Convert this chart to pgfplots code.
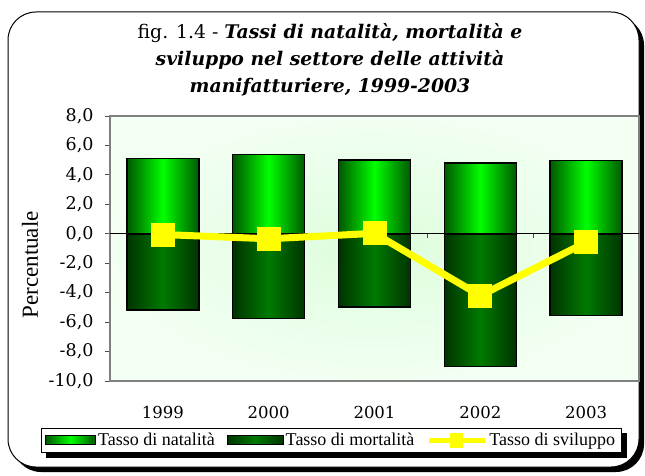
\documentclass[border=0pt]{standalone}
\usepackage{fontspec}
\setmainfont{Liberation Serif}
\newfontfamily\georgia{DejaVu Serif}
\usepackage{pgfplots}
\pgfplotsset{compat=1.18}
\definecolor{natl}{HTML}{00FF00}
\definecolor{natd}{HTML}{005800}
\definecolor{mortl}{HTML}{007A00}
\definecolor{mortd}{HTML}{003400}
\definecolor{svil}{HTML}{FFFF00}
\definecolor{bgin}{HTML}{DDFDDD}
\definecolor{bgout}{HTML}{F2FFF2}
\pgfplotsset{
  natbar/.style={ybar, bar width=0.68, bar shift=0pt, draw=black, line width=1.5pt,
    left color=natd, right color=natd, middle color=natl, forget plot},
  mortbar/.style={ybar, bar width=0.68, bar shift=0pt, draw=black, line width=1.5pt,
    left color=mortd, right color=mortd, middle color=mortl, forget plot},
}

\begin{document}
\begin{tikzpicture}
\useasboundingbox (0pt,0pt) rectangle (645pt,475pt);
% outer frame with shadow
\fill[black, rounded corners=28pt] (13pt,3pt) rectangle (644pt,458pt);
\draw[black, line width=1pt, fill=white, rounded corners=28pt] (8pt,8pt) rectangle (639pt,463pt);

\begin{axis}[
  at={(110pt,94pt)}, anchor=south west,
  scale only axis, width=529pt, height=265pt,
  xmin=-0.5, xmax=4.5, ymin=-10, ymax=8,
  axis background/.style={inner color=bgin, outer color=bgout},
  axis line style={draw=gray, line width=1.5pt},
  xtick={0,...,4}, xticklabels={1999,2000,2001,2002,2003},
  xtick style={draw=none},
  xticklabel style={font=\georgia\fontsize{16.5}{16.5}\selectfont, yshift=-17pt},
  ytick={-10,-8,...,8}, ytick pos=left,
  tick align=outside, major tick length=5pt,
  ytick style={draw=black!70, line width=0.8pt},
  yticklabel style={font=\georgia\fontsize{17.5}{17.5}\selectfont, xshift=-8pt,
    /pgf/number format/.cd, fixed, fixed zerofill, precision=1, use comma,
    assume math mode=true},
  ylabel={Percentuale},
  ylabel style={at={(axis description cs:-0.151,0.438)}, anchor=center,
    font=\fontsize{23}{23}\selectfont},
  legend columns=3,
  legend style={at={(axis description cs:0.418,-0.223)}, anchor=center,
    name=leg, draw=black, line width=1pt, fill=white,
    font=\fontsize{18}{18}\selectfont, inner ysep=3pt, inner xsep=4pt,
    /tikz/every even column/.append style={column sep=10pt}},
]
\draw[black, line width=0.8pt] (axis cs:-0.5,0) -- (axis cs:4.5,0);
\draw[black!70, line width=0.8pt] (axis cs:0.5,0) -- ([yshift=-4pt]axis cs:0.5,0);
\draw[black!70, line width=0.8pt] (axis cs:1.5,0) -- ([yshift=-4pt]axis cs:1.5,0);
\draw[black!70, line width=0.8pt] (axis cs:2.5,0) -- ([yshift=-4pt]axis cs:2.5,0);
\draw[black!70, line width=0.8pt] (axis cs:3.5,0) -- ([yshift=-4pt]axis cs:3.5,0);
\draw[black!70, line width=0.8pt] (axis cs:4.5,0) -- ([yshift=-4pt]axis cs:4.5,0);

% Tasso di natalita (one plot per bar so each bar gets its own shading)
\addplot[natbar] coordinates {(0,5.13)};
\addplot[natbar] coordinates {(1,5.40)};
\addplot[natbar] coordinates {(2,5.00)};
\addplot[natbar] coordinates {(3,4.80)};
\addplot[natbar] coordinates {(4,4.97)};
% Tasso di mortalita
\addplot[mortbar] coordinates {(0,-5.18)};
\addplot[mortbar] coordinates {(1,-5.74)};
\addplot[mortbar] coordinates {(2,-4.97)};
\addplot[mortbar] coordinates {(3,-9.03)};
\addplot[mortbar] coordinates {(4,-5.56)};
% Tasso di sviluppo
\addplot[svil, line width=7pt, mark=square*, mark size=11.5pt,
  mark options={line width=0pt, fill=svil, draw=svil}, forget plot]
  coordinates {(0,-0.05) (1,-0.34) (2,0.03) (3,-4.20) (4,-0.58)};

\addlegendimage{legend image code/.code={\draw[black, line width=1pt, left color=natd, right color=natd, middle color=natl] (0pt,-4.5pt) rectangle (50pt,4.5pt);}}
\addlegendentry{Tasso di natalità}
\addlegendimage{legend image code/.code={\draw[black, line width=1pt, left color=mortd, right color=mortd, middle color=mortl] (0pt,-4.5pt) rectangle (56pt,4.5pt);}}
\addlegendentry{Tasso di mortalità}
\addlegendimage{legend image code/.code={\draw[svil, line width=5pt] (0pt,0pt) -- (56pt,0pt); \fill[svil] (22pt,-7pt) rectangle (34pt,7pt);}}
\addlegendentry{Tasso di sviluppo}
\end{axis}

% legend shadow (right and bottom strips)
\fill[black] ([xshift=5pt,yshift=-5pt]leg.south west) rectangle ([xshift=5pt]leg.south east);
\fill[black] ([yshift=-5pt]leg.north east) rectangle ([xshift=5pt,yshift=-5pt]leg.south east);

\node[align=center, font=\georgia\fontsize{18.8}{27}\selectfont] at (330pt,415pt)
  {fig. 1.4 - \textbf{\textit{Tassi di natalità, mortalità e}}\\
   \textbf{\textit{sviluppo nel settore delle attività}}\\
   \textbf{\textit{manifatturiere, 1999-2003}}};
\end{tikzpicture}
\end{document}
